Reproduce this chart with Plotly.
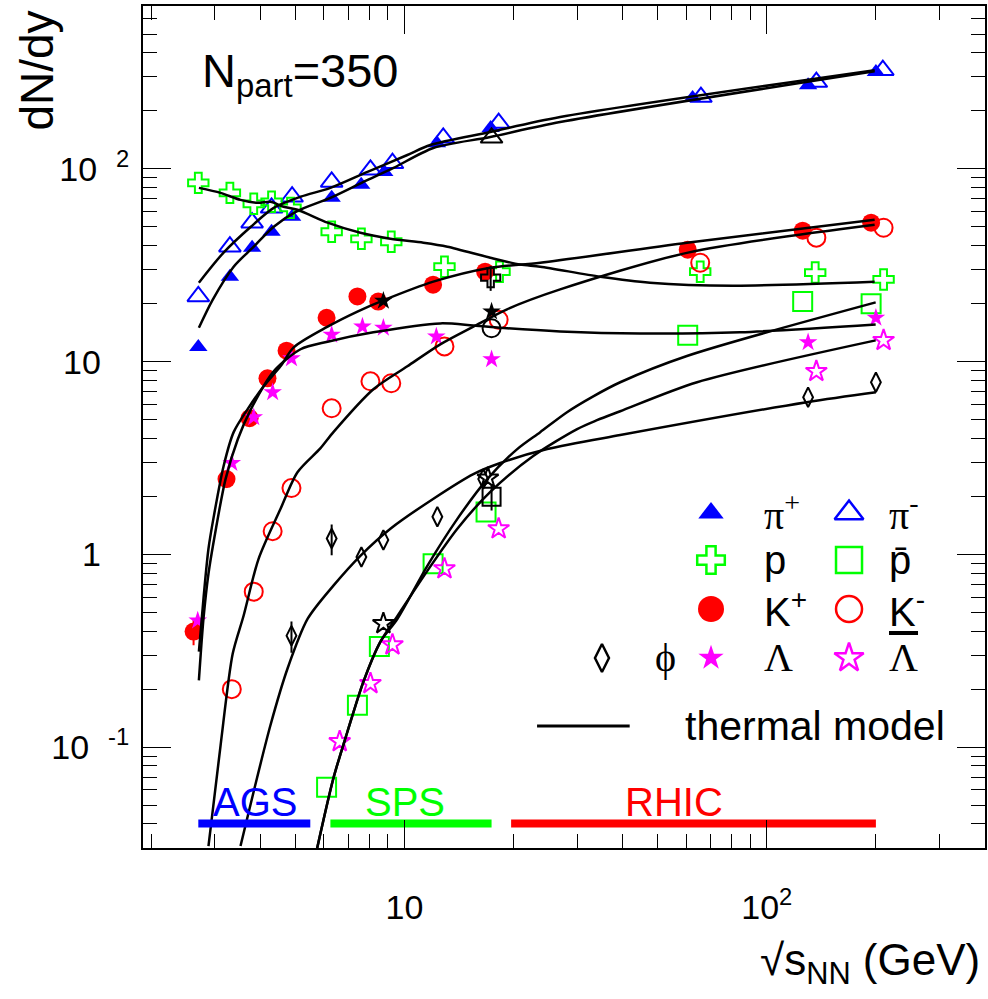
import math
import plotly.graph_objects as go

SANS = "Liberation Sans, Arial, Helvetica, sans-serif"
SERIF = "Liberation Serif, DejaVu Serif, Times New Roman, serif"

# ---------------- data ----------------
pi_plus_s = [2.7, 3.3, 3.8, 4.3, 4.9, 6.3, 7.6, 8.8, 12.3, 17.3, 62.4, 130, 200]
pi_plus = [11.9, 27.6, 39.0, 47.2, 56.4, 70.8, 82.7, 96.5, 136, 163, 233, 272, 318]

pi_minus_s = [2.7, 3.3, 3.8, 4.3, 4.9, 6.3, 8.06, 9.27, 12.8, 18.2, 65.8, 137, 209]
pi_minus = [21.8, 39.5, 52.6, 62.8, 71.7, 85.6, 98.9, 107, 145, 173, 236, 282, 325]

p_s = [2.7, 3.3, 3.84, 4.3, 4.85, 6.3, 7.61, 9.2, 12.9, 18.3, 65.5, 136, 210]
p_vals = [84.6, 75.1, 65.9, 67.5, 62.8, 47.2, 43.4, 41.9, 31.1, 29.3, 29.3, 29.0, 26.7]

pbar_s = [6.1, 7.42, 8.53, 12.0, 16.8, 60.5, 125.6, 194]
pbar = [0.062, 0.165, 0.333, 0.894, 1.66, 13.7, 20.5, 20.0]

kp_s = [2.62, 3.23, 3.74, 4.19, 4.73, 6.1, 7.42, 8.47, 12.0, 16.7, 60.5, 125.6, 194]
kp = [0.398, 2.46, 5.09, 8.2, 11.4, 16.9, 21.8, 20.5, 25.1, 29.3, 38.1, 47.8, 52.6]
kp_err = [0.06, 0.25, 0.3, 0.5, 0.8, 0, 0, 0, 0, 0, 0, 0, 0]

km_s = [3.34, 3.84, 4.33, 4.88, 6.3, 8.06, 9.2, 12.9, 18.2, 65.5, 137, 210]
km = [0.20, 0.641, 1.32, 2.21, 5.73, 7.91, 7.73, 12.0, 16.5, 32.6, 44.0, 49.5]

lam_s = [2.69, 3.34, 3.84, 4.33, 4.88, 6.3, 7.66, 8.75, 12.25, 17.4, 130, 200]
lam = [0.454, 2.98, 5.15, 6.94, 10.4, 13.8, 15.2, 15.0, 13.5, 10.3, 12.6, 16.9]

lbar_s = [6.63, 8.06, 9.27, 12.9, 18.2, 137, 210]
lbar = [0.107, 0.214, 0.340, 0.843, 1.36, 8.91, 12.9]

phi_s = [4.88, 6.3, 7.61, 8.75, 12.33, 16.5, 130, 200]
phi = [0.379, 1.21, 0.97, 1.19, 1.57, 2.46, 6.54, 7.82]
phi_err = [0.07, 0.22, 0, 0, 0, 0, 0, 0]

# other (black) measurements at SPS
blk_tri_s, blk_tri = [17.4], [145]
blk_cross_s, blk_cross, blk_cross_err = [17.3], [27.3], [4.0]
blk_star_s, blk_star = [8.75, 17.4], [20.7, 18.2]
blk_circ_s, blk_circ = [17.4], [14.9]
blk_ostar_s, blk_ostar = [8.75, 17.0], [0.438, 2.49]
blk_sq_s, blk_sq, blk_sq_err = [17.4], [1.99], [0.3]

# thermal model curves
m_pip_s = [2.71, 2.96, 3.38, 3.84, 4.36, 5.07, 6.25, 7.71, 9.33, 12.02, 17.26, 26.9, 198.4]
m_pip = [15.0, 21.0, 31.1, 39.5, 50.1, 60.5, 70.8, 85.6, 101.2, 128.4, 146.4, 175, 321]

m_pim_s = [2.71, 3.17, 3.77, 4.36, 5.17, 6.25, 7.91, 10.19, 11.79, 17.26, 26.9, 198.4]
m_pim = [25.7, 36.8, 50.1, 62.8, 71.7, 79.7, 96.5, 118.1, 133.1, 155.4, 185.8, 325]

m_p_s = [2.71, 3.11, 3.53, 3.94, 4.27, 4.64, 5.07, 6.14, 7.56, 9.15, 11.28, 13.14, 17.26,
         20.87, 23.7, 34.7, 47.6, 80.6, 198.4]
m_p = [79.7, 75.1, 69.1, 66.7, 67.5, 63.6, 61.4, 52.6, 46.6, 43.4, 41.4, 39.5, 34.6,
       31.9, 31.1, 27.6, 25.7, 24.8, 26.0]

m_kp_s = [2.71, 2.79, 2.88, 2.98, 3.17, 3.38, 3.69, 4.09, 4.55, 4.95, 6.14, 7.42, 8.75,
          12.02, 17.26, 23.7, 60.2, 198.4]
m_kp = [0.313, 0.589, 1.07, 1.58, 2.87, 4.31, 5.66, 7.45, 9.46, 11.87, 15.2, 18.2, 20.8,
        26.0, 30.7, 32.6, 41.4, 54.5]

m_lam_s = [2.71, 2.79, 2.88, 3.02, 3.21, 3.47, 3.77, 4.36, 5.17, 6.14, 8.21, 12.56, 15.5,
           19.2, 26.9, 44.7, 84.3, 199.7]
m_lam = [0.222, 0.464, 0.794, 1.36, 2.46, 3.96, 5.66, 8.91, 11.6, 12.7, 14.2, 15.8, 15.4,
         14.9, 14.35, 14.0, 14.2, 15.6]

m_km_s = [2.88, 3.11, 3.36, 3.60, 3.96, 4.55, 5.07, 5.87, 6.37, 8.21, 10.19, 12.56, 15.5,
          19.2, 26.9, 60.6, 198.4]
m_km = [0.0307, 0.102, 0.306, 0.481, 0.949, 1.72, 2.67, 3.56, 4.31, 7.19, 9.46, 12.3, 15.2,
        18.7, 23.7, 36.8, 51.3]

m_phi_s = [3.53, 3.84, 4.27, 4.76, 5.41, 6.37, 7.56, 9.15, 12.0, 15.5, 18.4, 24.8, 39.4, 128.8, 200]
m_phi = [0.0307, 0.0591, 0.130, 0.256, 0.464, 0.689, 0.984, 1.36, 1.94, 2.61, 2.98, 3.52, 4.16, 6.16, 6.94]

m_pbar_s = [5.7, 6.37, 6.97, 7.71, 8.59, 9.57, 11.57, 14.0, 16.93, 20.48, 23.7, 28.1, 33.2, 39.4, 60.2, 199.7]
m_pbar = [0.028, 0.069, 0.121, 0.219, 0.353, 0.464, 0.873, 1.53, 2.46, 3.52, 4.31, 5.47, 6.61, 7.82, 10.7, 20.3]

m_lbar_s = [5.7, 6.37, 6.97, 7.71, 8.59, 9.57, 11.57, 14.0, 17.26, 22.67, 29.97, 34.0, 39.4, 64.2, 199.7]
m_lbar = [0.028, 0.069, 0.121, 0.219, 0.353, 0.48, 0.822, 1.36, 2.11, 3.24, 4.47, 4.97, 5.53, 7.82, 12.9]

# accelerator energy ranges
ags_range = [2.7, 5.5]
sps_range = [6.25, 17.4]
rhic_range = [19.7, 200]
range_level = 0.0402

NB = "\u00a0"
x_major = [10, 100]
x_major_text = ["10", "10<sup>2</sup>"]
x_minor = [2, 3, 4, 5, 6, 7, 8, 9, 20, 30, 40, 50, 60, 70, 80, 90, 200, 300]
y_major = [0.1, 1, 10, 100]
y_major_text = ["10" + NB + NB + "<sup>-1</sup>", "1" + NB * 3, "10" + NB * 3, "10" + NB + NB + "<sup>2</sup>"]
y_minor = [0.04, 0.05, 0.06, 0.07, 0.08, 0.09, 0.2, 0.3, 0.4, 0.5, 0.6, 0.7, 0.8, 0.9,
           2, 3, 4, 5, 6, 7, 8, 9, 20, 30, 40, 50, 60, 70, 80, 90, 200, 300, 400, 500, 600]

BLUE, GREEN, RED, MAG, BLACK = "#0000ff", "#00ff00", "#ff0000", "#ff00ff", "#000000"

fig = go.Figure()


def add_pts(s, v, symbol, color, size, err=None, lw=2):
    m = dict(symbol=symbol, color=color, size=size, line=dict(width=lw, color=color))
    if not symbol.endswith("open"):
        m["line"] = dict(width=0, color=color)
    kw = {}
    if err is not None:
        kw["error_y"] = dict(type="data", array=err, color=color, thickness=2, width=0)
    fig.add_trace(go.Scatter(x=s, y=v, mode="markers", marker=m, cliponaxis=True, **kw))


# data points
add_pts(pi_plus_s, pi_plus, "triangle-up", BLUE, 16)
add_pts(pi_minus_s, pi_minus, "triangle-up-open", BLUE, 19)
add_pts(p_s, p_vals, "cross-open", GREEN, 17)
add_pts(pbar_s, pbar, "square-open", GREEN, 19)
add_pts(kp_s, kp, "circle", RED, 18, err=kp_err)
add_pts(km_s, km, "circle-open", RED, 18)
add_pts(lam_s, lam, "star", MAG, 14)
add_pts(lbar_s, lbar, "star-open", MAG, 16)
add_pts(phi_s, phi, "diamond-tall-open", BLACK, 14, err=phi_err)
add_pts(blk_tri_s, blk_tri, "triangle-up-open", BLACK, 19)
add_pts(blk_cross_s, blk_cross, "cross-open", BLACK, 16, err=blk_cross_err)
add_pts(blk_star_s, blk_star, "star", BLACK, 14)
add_pts(blk_circ_s, blk_circ, "circle-open", BLACK, 18)
add_pts(blk_ostar_s, blk_ostar, "star-open", BLACK, 16)
add_pts(blk_sq_s, blk_sq, "square-open", BLACK, 18, err=blk_sq_err)

# thermal model curves
for xs, ys in [(m_pip_s, m_pip), (m_pim_s, m_pim), (m_p_s, m_p), (m_kp_s, m_kp),
               (m_lam_s, m_lam), (m_km_s, m_km), (m_phi_s, m_phi), (m_pbar_s, m_pbar),
               (m_lbar_s, m_lbar)]:
    fig.add_trace(go.Scatter(x=xs, y=ys, mode="lines",
                             line=dict(color="black", width=2.5, shape="spline", smoothing=0.8)))

# accelerator ranges
for rng, col in [(ags_range, BLUE), (sps_range, GREEN), (rhic_range, RED)]:
    fig.add_trace(go.Scatter(x=rng, y=[range_level, range_level], mode="lines",
                             line=dict(color=col, width=8)))

# invisible trace to create mirrored top/right axes
fig.add_trace(go.Scatter(x=[10], y=[1], xaxis="x2", yaxis="y2", mode="markers",
                         marker=dict(opacity=0), hoverinfo="skip"))

# ---------------- legend (overlay axes in paper fractions) ----------------
col0, col1, col2 = 0.5451, 0.6746, 0.8385
tcol0, tcol1, tcol2 = 0.6057, 0.7352, 0.8836
rows = [0.3979, 0.3420, 0.2838, 0.2257]
leg_markers = [
    (col1, rows[0], "triangle-up", BLUE, 22),
    (col2, rows[0], "triangle-up-open", BLUE, 25),
    (col1, rows[1], "cross-open", GREEN, 23),
    (col2, rows[1], "square-open", GREEN, 26),
    (col1, rows[2], "circle", RED, 26),
    (col2, rows[2], "circle-open", RED, 26),
    (col0, rows[3], "diamond-tall-open", BLACK, 20),
    (col1, rows[3], "star", MAG, 19),
    (col2, rows[3], "star-open", MAG, 22),
]
for (lx, ly, sym, col, sz) in leg_markers:
    m = dict(symbol=sym, color=col, size=sz, line=dict(width=2.5, color=col))
    if not sym.endswith("open"):
        m["line"] = dict(width=0, color=col)
    fig.add_trace(go.Scatter(x=[lx], y=[ly], xaxis="x3", yaxis="y3", mode="markers",
                             marker=m, cliponaxis=False))
fig.add_trace(go.Scatter(x=[0.468, 0.578], y=[0.1449, 0.1449], xaxis="x3", yaxis="y3",
                         mode="lines", line=dict(color="black", width=3)))

ann = []
leg_texts = [
    (tcol1, rows[0], "π<sup>+</sup>", SERIF),
    (tcol2, rows[0], "π<sup>-</sup>", SERIF),
    (tcol1, rows[1], "p", SANS),
    (tcol2, rows[1], "p\u0304", SANS),
    (tcol1, rows[2], "K<sup>+</sup>", SANS),
    (tcol2, rows[2], "K<sup>-</sup>", SANS),
    (tcol0, rows[3], "\u03d5", SERIF),
    (tcol1, rows[3], "Λ", SERIF),
    (tcol2, rows[3], "<span style='text-decoration:overline'>Λ</span>", SERIF),
]
for (tx, ty, t, fam) in leg_texts:
    ann.append(dict(x=tx, y=ty, xref="paper", yref="paper", text=t, showarrow=False,
                    xanchor="left", yanchor="middle", font=dict(size=40, family=fam, color="black")))
ann.append(dict(x=0.6413, y=0.1449, xref="paper", yref="paper", text="thermal model",
                showarrow=False, xanchor="left", yanchor="middle",
                font=dict(size=41, family=SANS, color="black")))

# range labels
for tx, t, col in [(0.133, "AGS", BLUE), (0.3112, "SPS", GREEN), (0.6306, "RHIC", RED)]:
    ann.append(dict(x=tx, y=0.0546, xref="paper", yref="paper", text=t, showarrow=False,
                    xanchor="center", yanchor="middle", font=dict(size=40, family=SANS, color=col)))

# N_part label
ann.append(dict(x=0.0677, y=0.957, xref="paper", yref="paper",
                text="N<sub>part</sub>=350", showarrow=False, xanchor="left", yanchor="top",
                font=dict(size=47, family=SANS, color="black")))

# axis titles
ann.append(dict(x=-0.127, y=0.997, xref="paper", yref="paper", text="dN/dy", textangle=-90,
                showarrow=False, xanchor="center", yanchor="top",
                font=dict(size=46, family=SANS, color="black")))
ann.append(dict(x=0.996, y=-0.137, xref="paper", yref="paper",
                text="\u221as<sub>NN</sub> (GeV)", showarrow=False, xanchor="right",
                yanchor="middle", font=dict(size=44, family=SANS, color="black")))

xr = [math.log10(1.9), math.log10(400)]
yr = [math.log10(0.03), math.log10(700)]

common_x = dict(type="log", range=xr, tickmode="array", tickvals=x_major, ticks="inside",
                ticklen=28, tickwidth=1, tickcolor="black", showline=True, linecolor="black",
                linewidth=2, showgrid=False, zeroline=False,
                minor=dict(tickmode="array", tickvals=x_minor, ticks="inside", ticklen=14,
                           tickwidth=1, tickcolor="black", showgrid=False))
common_y = dict(type="log", range=yr, tickmode="array", tickvals=y_major, ticks="inside",
                ticklen=28, tickwidth=1, tickcolor="black", showline=True, linecolor="black",
                linewidth=2, showgrid=False, zeroline=False,
                minor=dict(tickmode="array", tickvals=y_minor, ticks="inside", ticklen=14,
                           tickwidth=1, tickcolor="black", showgrid=False))

fig.update_layout(
    width=988, height=999,
    margin=dict(l=143, r=3, t=6, b=151),
    paper_bgcolor="white", plot_bgcolor="white",
    showlegend=False,
    xaxis=dict(**common_x, ticktext=x_major_text, anchor="y",
               tickfont=dict(size=34, family=SANS, color="black"), ticklabelstandoff=28),
    yaxis=dict(**common_y, ticktext=y_major_text, anchor="x",
               tickfont=dict(size=34, family=SANS, color="black"), ticklabelstandoff=5),
    xaxis2=dict(**common_x, overlaying="x", side="top", anchor="y", showticklabels=False),
    yaxis2=dict(**common_y, overlaying="y", side="right", anchor="x", showticklabels=False),
    xaxis3=dict(overlaying="x", range=[0, 1], visible=False, anchor="y3"),
    yaxis3=dict(overlaying="y", range=[0, 1], visible=False, anchor="x3"),
    annotations=ann,
)

fig.write_html("out.html")
